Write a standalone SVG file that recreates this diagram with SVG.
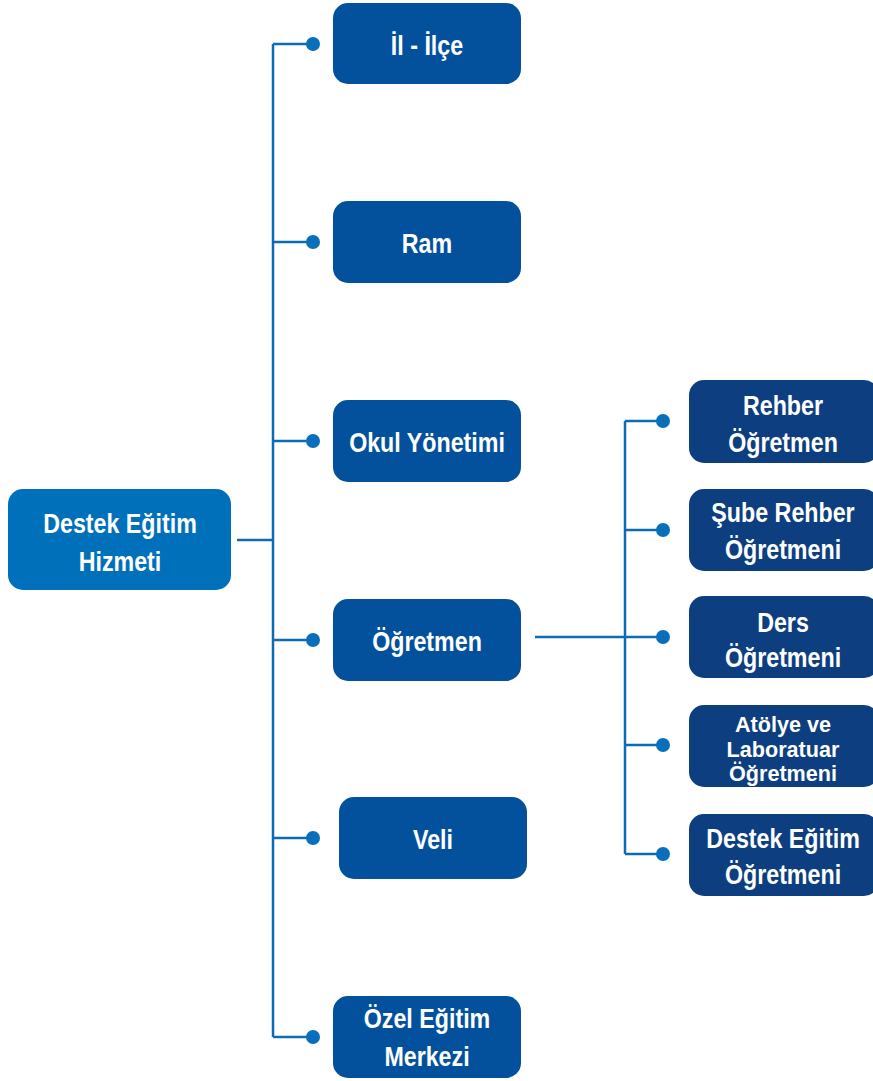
<svg xmlns="http://www.w3.org/2000/svg" width="873" height="1081" viewBox="0 0 873 1081">
<style>
.t{font-family:"Liberation Sans",Arial,sans-serif;font-weight:bold;fill:#fff;text-anchor:middle;font-size:28px}
.s{font-size:22.5px}
.root{fill:#0070ba}
.l2{fill:#03519c}
.l3{fill:#0d3f80}
.c{stroke:#0b6cb5;stroke-width:2.5;fill:none}
.d{fill:#0a6fba}
</style>
<rect width="873" height="1081" fill="#fff"/>
<g id="connectors">
<path class="c" d="M237 540H273M273 44V1037M273 44H313M273 242H313M273 441H313M273 640H313M273 838H313M273 1037H313"/>
<path class="c" d="M535 637H663M625 421V854M625 421H663M625 530H663M625 745H663M625 854H663"/>
<circle class="d" cx="313" cy="44" r="7"/>
<circle class="d" cx="313" cy="242" r="7"/>
<circle class="d" cx="313" cy="441" r="7"/>
<circle class="d" cx="313" cy="640" r="7"/>
<circle class="d" cx="313" cy="838" r="7"/>
<circle class="d" cx="313" cy="1037" r="7"/>
<circle class="d" cx="663" cy="421" r="7"/>
<circle class="d" cx="663" cy="530" r="7"/>
<circle class="d" cx="663" cy="637" r="7"/>
<circle class="d" cx="663" cy="745" r="7"/>
<circle class="d" cx="663" cy="854" r="7"/>
</g>
<g id="root"><rect class="root" x="8" y="489" width="223" height="101" rx="15"/><text class="t" transform="translate(120 533) scale(.83 1)">Destek Eğitim</text><text class="t" transform="translate(120 571) scale(.83 1)">Hizmeti</text></g>
<g id="il"><rect class="l2" x="333" y="3" width="188" height="81" rx="15"/><text class="t" transform="translate(427 55) scale(.83 1)">İl - İlçe</text></g>
<g id="ram"><rect class="l2" x="333" y="201" width="188" height="82" rx="15"/><text class="t" transform="translate(427 253) scale(.83 1)">Ram</text></g>
<g id="okul"><rect class="l2" x="333" y="400" width="188" height="82" rx="15"/><text class="t" transform="translate(427 452) scale(.83 1)">Okul Yönetimi</text></g>
<g id="ogretmen"><rect class="l2" x="333" y="599" width="188" height="82" rx="15"/><text class="t" transform="translate(427 651) scale(.83 1)">Öğretmen</text></g>
<g id="veli"><rect class="l2" x="339" y="797" width="188" height="82" rx="15"/><text class="t" transform="translate(433 849) scale(.83 1)">Veli</text></g>
<g id="ozel"><rect class="l2" x="333" y="996" width="188" height="82" rx="15"/><text class="t" transform="translate(427 1028) scale(.83 1)">Özel Eğitim</text><text class="t" transform="translate(427 1066) scale(.83 1)">Merkezi</text></g>
<g id="rehber"><rect class="l3" x="689" y="380" width="190" height="83" rx="15"/><text class="t" transform="translate(783 415) scale(.83 1)">Rehber</text><text class="t" transform="translate(783 452) scale(.83 1)">Öğretmen</text></g>
<g id="sube"><rect class="l3" x="689" y="489" width="190" height="82" rx="15"/><text class="t" transform="translate(783 522) scale(.83 1)">Şube Rehber</text><text class="t" transform="translate(783 559) scale(.83 1)">Öğretmeni</text></g>
<g id="ders"><rect class="l3" x="689" y="596" width="190" height="82" rx="15"/><text class="t" transform="translate(783 632) scale(.83 1)">Ders</text><text class="t" transform="translate(783 667) scale(.83 1)">Öğretmeni</text></g>
<g id="atolye"><rect class="l3" x="689" y="705" width="190" height="82" rx="15"/><text class="t s" transform="translate(783 732) scale(.96 1)">Atölye ve</text><text class="t s" transform="translate(783 757) scale(.96 1)">Laboratuar</text><text class="t s" transform="translate(783 781) scale(.96 1)">Öğretmeni</text></g>
<g id="destek"><rect class="l3" x="689" y="814" width="190" height="82" rx="15"/><text class="t" transform="translate(783 848) scale(.83 1)">Destek Eğitim</text><text class="t" transform="translate(783 884) scale(.83 1)">Öğretmeni</text></g>
</svg>
